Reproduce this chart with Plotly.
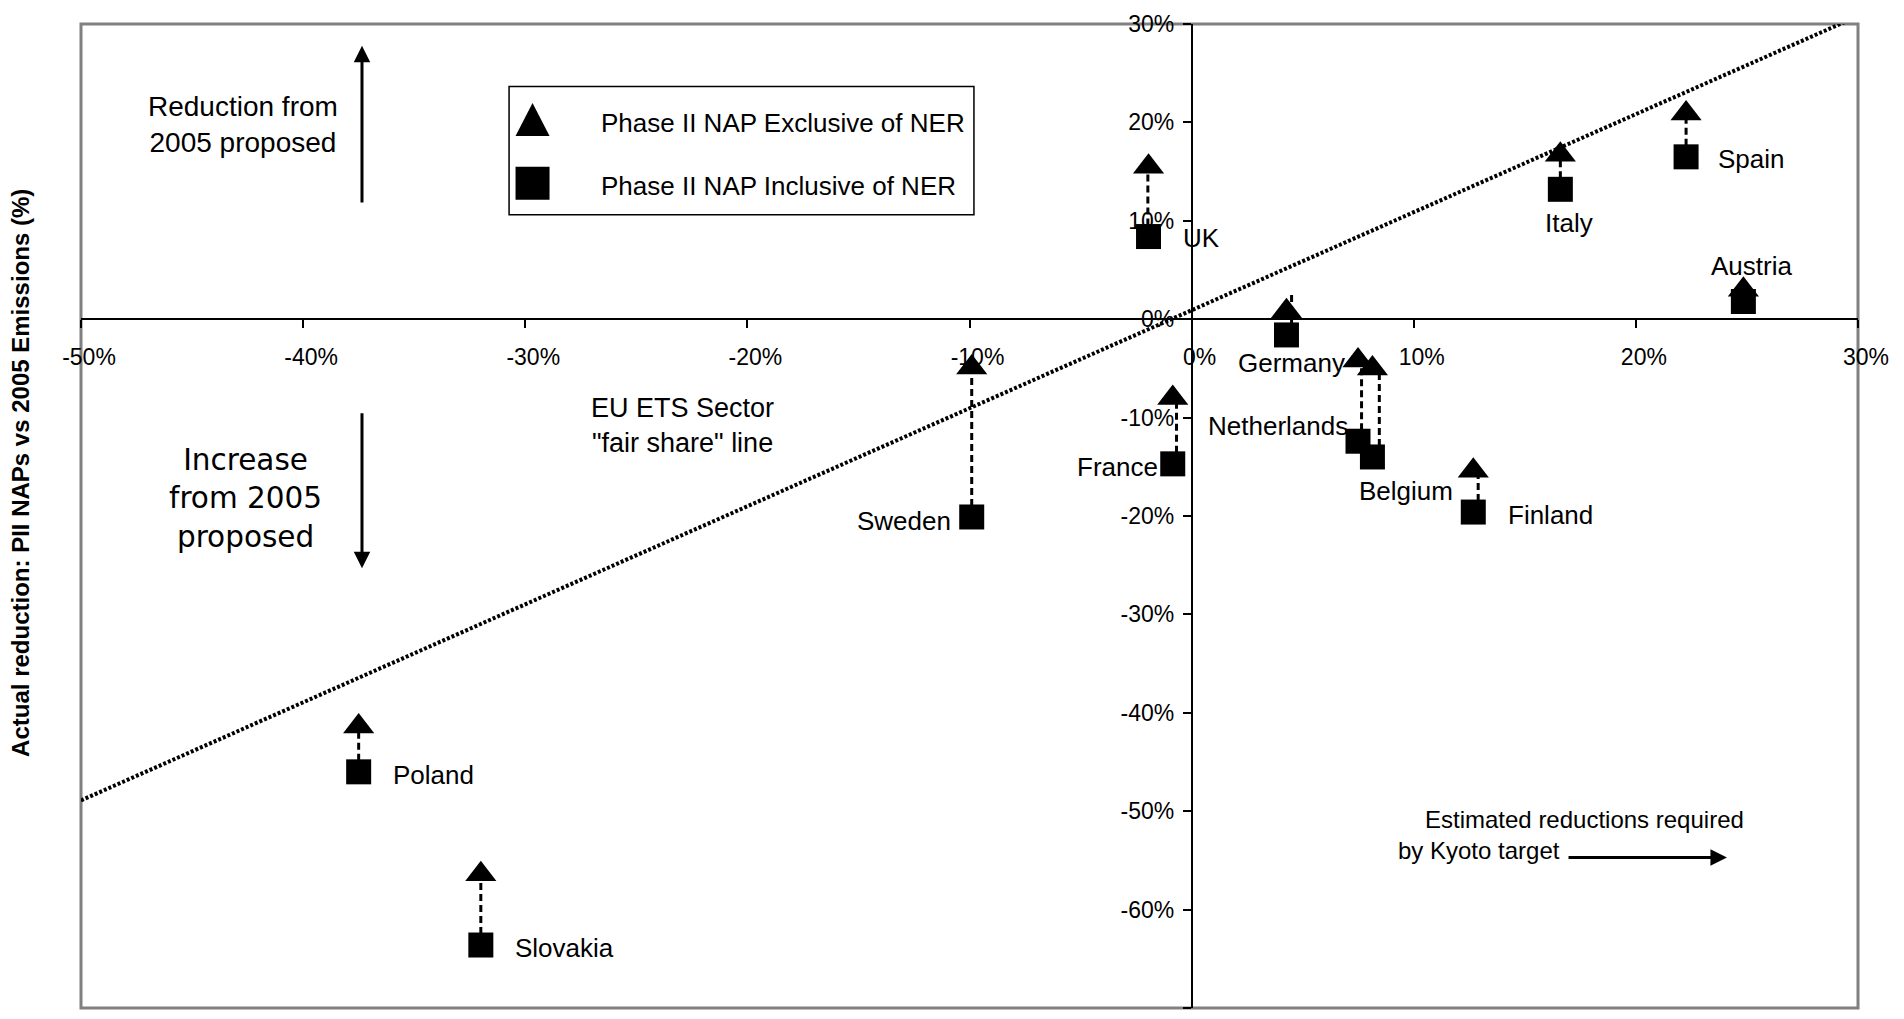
import plotly.graph_objects as go

# ---------------- data ----------------
countries = ["UK", "Sweden", "France", "Germany", "Netherlands", "Belgium",
             "Finland", "Italy", "Spain", "Austria", "Poland", "Slovakia"]
# x: estimated reductions required by Kyoto target (%)
kyoto_required = [-1.94, -9.9, -0.85, 4.27, 7.49, 8.14,
                  12.68, 16.6, 22.26, 24.84, -37.5, -32.0]
# y: actual reduction PII NAPs vs 2005 emissions (%)
nap_excl_ner = [15.5, -4.9, -8.0, 0.8, -4.2, -5.0,
                -15.4, 16.7, 20.9, 3.0, -41.4, -56.4]
nap_incl_ner = [8.4, -20.1, -14.7, -1.6, -12.4, -14.0,
                -19.6, 13.2, 16.5, 1.8, -46.0, -63.6]
# dashed link between the two markers of each country
link_x = [-1.97, -9.9, -0.68, 4.5, 7.65, 8.45,
          12.9, 16.6, 22.26, 24.84, -37.5, -32.0]
link_top = [15.5, -4.9, -8.0, 2.6, -4.2, -5.0,
            -15.4, 16.7, 20.9, 3.0, -41.4, -56.4]
# EU ETS sector "fair share" line
fair_x = [-50, 30]
fair_y = [-48.9, 30.8]

x_ticks = list(range(-50, 31, 10))
y_ticks = list(range(-70, 31, 10))
x_tick_text = [f"{v}%" for v in x_ticks]
y_tick_text = [f"{v}%" for v in y_ticks]

# ---------------- styles ----------------
FONT = "Liberation Sans, Arial, sans-serif"
LABEL_SIZE = 26
# label placement relative to the square marker: (xanchor, xshift px, yshift px)
label_place = {
    "UK": ("left", 32, -1), "Sweden": ("right", -19, -4),
    "France": ("right", -13, -3), "Germany": ("center", 5, -28),
    "Netherlands": ("right", -8, 15), "Belgium": ("left", -15, -34),
    "Finland": ("left", 33, -3), "Italy": ("center", 9, -34),
    "Spain": ("left", 30, -2), "Austria": ("center", 8, 35),
    "Poland": ("left", 32, -3), "Slovakia": ("left", 32, -3),
}

fig = go.Figure()

# fair share line
fig.add_trace(go.Scatter(x=fair_x, y=fair_y, mode="lines",
                         line=dict(color="black", width=4, dash="3px,2px"),
                         hoverinfo="skip", showlegend=False))

# dashed links
lx, ly = [], []
for xv, top, bot in zip(link_x, link_top, nap_incl_ner):
    lx += [xv, xv, None]
    ly += [bot, top, None]
fig.add_trace(go.Scatter(x=lx, y=ly, mode="lines",
                         line=dict(color="black", width=3, dash="7px,4px"),
                         hoverinfo="skip", showlegend=False))

fig.add_trace(go.Scatter(x=kyoto_required, y=nap_excl_ner, mode="markers",
                         name="Phase II NAP Exclusive of NER",
                         marker=dict(symbol="triangle-up", size=27, color="black",
                                     line=dict(width=0)),
                         text=countries, showlegend=False, cliponaxis=False))
fig.add_trace(go.Scatter(x=kyoto_required, y=nap_incl_ner, mode="markers",
                         name="Phase II NAP Inclusive of NER",
                         marker=dict(symbol="square", size=25, color="black",
                                     line=dict(width=0)),
                         text=countries, showlegend=False, cliponaxis=False))

annotations = []
for c, xv, yv in zip(countries, kyoto_required, nap_incl_ner):
    anc, xs, ys = label_place[c]
    annotations.append(dict(x=xv, y=yv, xref="x", yref="y", text=c, showarrow=False,
                            xanchor=anc, yanchor="middle", xshift=xs, yshift=ys,
                            font=dict(family=FONT, size=LABEL_SIZE, color="black")))

# explanatory texts
annotations += [
    dict(x=-42.7, y=19.8, xref="x", yref="y", text="Reduction from<br>2005 proposed",
         showarrow=False, align="center", xanchor="center", yanchor="middle",
         font=dict(family=FONT, size=28, color="black")),
    dict(x=-42.6, y=-18.2, xref="x", yref="y", text="Increase<br>from 2005<br>proposed",
         showarrow=False, align="center", xanchor="center", yanchor="middle",
         font=dict(family="DejaVu Sans, Verdana, sans-serif", size=29.5, color="black")),
    dict(x=-22.9, y=-10.8, xref="x", yref="y", text="EU ETS Sector<br>\"fair share\" line",
         showarrow=False, align="center", xanchor="center", yanchor="middle",
         font=dict(family=FONT, size=27, color="black")),
    dict(x=10.4, y=-50.8, xref="x", yref="y", text="Estimated reductions required",
         showarrow=False, xanchor="left", yanchor="middle",
         font=dict(family=FONT, size=24, color="black")),
    dict(x=9.2, y=-54.0, xref="x", yref="y", text="by Kyoto target",
         showarrow=False, xanchor="left", yanchor="middle",
         font=dict(family=FONT, size=24, color="black")),
    # arrows
    dict(x=-37.35, y=27.8, ax=-37.35, ay=11.7, xref="x", yref="y", axref="x", ayref="y",
         text="", showarrow=True, arrowhead=2, arrowsize=1.1, arrowwidth=3, arrowcolor="black"),
    dict(x=-37.35, y=-25.3, ax=-37.35, ay=-9.4, xref="x", yref="y", axref="x", ayref="y",
         text="", showarrow=True, arrowhead=2, arrowsize=1.1, arrowwidth=3, arrowcolor="black"),
    dict(x=24.1, y=-54.7, ax=16.9, ay=-54.7, xref="x", yref="y", axref="x", ayref="y",
         text="", showarrow=True, arrowhead=2, arrowsize=1.1, arrowwidth=3, arrowcolor="black"),
    # y-axis title
    dict(x=-0.034, y=0.5434, xref="paper", yref="paper", textangle=-90, showarrow=False,
         xanchor="center", yanchor="middle",
         text="<b>Actual reduction: PII NAPs vs 2005 Emissions (%)</b>",
         font=dict(family=FONT, size=24, color="black")),
    # legend texts
    dict(x=0.2915, y=0.8997, xref="paper", yref="paper", xanchor="left", yanchor="middle",
         showarrow=False, text="Phase II NAP Exclusive of NER",
         font=dict(family=FONT, size=26, color="black")),
    dict(x=0.2915, y=0.8354, xref="paper", yref="paper", xanchor="left", yanchor="middle",
         showarrow=False, text="Phase II NAP Inclusive of NER",
         font=dict(family=FONT, size=26, color="black")),
]

shapes = [
    # plot frame
    dict(type="rect", xref="paper", yref="paper", x0=0, x1=1, y0=0, y1=1,
         line=dict(color="#808080", width=3), layer="below"),
    # legend box
    dict(type="rect", xref="paper", yref="paper", x0=0.2409, x1=0.5025, y0=0.8061, y1=0.9364,
         line=dict(color="black", width=1.5), fillcolor="white", layer="above"),
    dict(type="path", xref="paper", yref="paper", xsizemode="pixel", ysizemode="pixel",
         xanchor=0.2541, yanchor=0.9030, path="M-17,-16.5L17,-16.5L0,16.5Z",
         fillcolor="black", line=dict(width=0), layer="above"),
    dict(type="path", xref="paper", yref="paper", xsizemode="pixel", ysizemode="pixel",
         xanchor=0.2541, yanchor=0.8381, path="M-17,-16.5L17,-16.5L17,16.5L-17,16.5Z",
         fillcolor="black", line=dict(width=0), layer="above"),
]

fig.update_layout(
    width=1904, height=1019,
    margin=dict(l=81, r=46, t=15, b=11),
    paper_bgcolor="white", plot_bgcolor="white",
    showlegend=False,
    font=dict(family=FONT, color="black"),
    annotations=annotations, shapes=shapes,
)
fig.update_xaxes(range=[-50, 30], anchor="free", position=0.7,
                 showline=True, linecolor="black", linewidth=1.5,
                 ticks="outside", ticklen=8, tickwidth=1.5, tickcolor="black",
                 tickvals=x_ticks, ticktext=x_tick_text,
                 tickfont=dict(family=FONT, size=23, color="black"),
                 showgrid=False, zeroline=False,
                 ticklabelshift=8, ticklabelstandoff=9)
fig.update_yaxes(range=[-70, 30], anchor="free", position=0.625,
                 showline=True, linecolor="black", linewidth=1.5,
                 ticks="outside", ticklen=8, tickwidth=1.5, tickcolor="black",
                 tickvals=y_ticks, ticktext=y_tick_text,
                 tickfont=dict(family=FONT, size=23, color="black"),
                 showgrid=False, zeroline=False,
                 ticklabelstandoff=4)

fig.write_html("out.html", config={"displayModeBar": False},
               post_script="document.body.style.margin='0';document.body.style.overflow='hidden';")
